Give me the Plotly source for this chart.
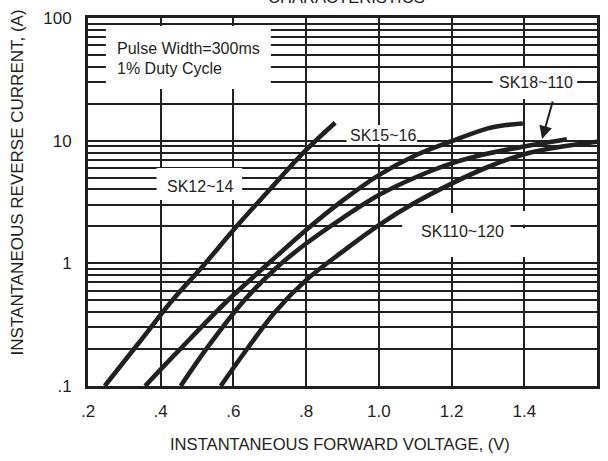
import math
import plotly.graph_objects as go

# ---------------- data ----------------
x_ticks = [0.2, 0.4, 0.6, 0.8, 1.0, 1.2, 1.4, 1.6]
x_ticktext = [".2", ".4", ".6", ".8", "1.0", "1.2", "1.4", "1.6"]
y_ticks = [0.1, 1, 10, 100]
y_ticktext = [".1", "1", "10", "100"]
y_minor = [0.2, 0.3, 0.4, 0.5, 0.6, 0.7, 0.8, 0.9,
           2, 3, 4, 5, 6, 7, 8, 9,
           20, 30, 40, 50, 60, 70, 80, 90]

sk12_v = [0.246, 0.34, 0.432, 0.52, 0.60, 0.70, 0.80, 0.88]
sk12_i = [0.1, 0.225, 0.50, 0.98, 1.87, 4.0, 8.4, 14.0]

sk15_v = [0.357, 0.45, 0.585, 0.70, 0.80, 0.90, 1.0, 1.1, 1.2, 1.3, 1.35, 1.396]
sk15_i = [0.1, 0.195, 0.50, 1.02, 1.87, 3.24, 5.24, 7.57, 9.9, 12.6, 13.4, 13.8]

sk18_v = [0.455, 0.53, 0.63, 0.72, 0.80, 0.90, 1.0, 1.1, 1.2, 1.3, 1.4, 1.517]
sk18_i = [0.1, 0.209, 0.50, 0.93, 1.45, 2.34, 3.6, 5.01, 6.53, 7.85, 8.95, 10.25]

sk110_v = [0.565, 0.64, 0.714, 0.8, 0.9, 1.0, 1.1, 1.2, 1.3, 1.4, 1.5, 1.6]
sk110_i = [0.1, 0.205, 0.40, 0.73, 1.245, 2.05, 3.13, 4.47, 6.1, 7.76, 8.91, 9.8]

arrow_tip = (1.449, 10.3)

# ---------------- layout geometry ----------------
W, H = 608, 461
ML, MR, MT, MB = 88, 8, 18, 75
PW = W - ML - MR
PH = H - MT - MB
INK = "#231f20"
FONT = "Liberation Sans, Arial, sans-serif"


def px(x, y):
    """pixel -> paper coordinates"""
    return (x - ML) / PW, (H - MB - y) / PH


fig = go.Figure()
for v, i in [(sk12_v, sk12_i), (sk15_v, sk15_i), (sk18_v, sk18_i), (sk110_v, sk110_i)]:
    fig.add_trace(go.Scatter(x=v, y=i, mode="lines",
                             line=dict(color=INK, width=4.6, shape="spline", smoothing=1.0),
                             showlegend=False, hoverinfo="skip"))

# white gaps in the grid behind the labels
boxes = [(106, 26, 272, 89), (157, 168, 243, 200), (348, 125, 419, 144),
         (495, 68, 580, 99), (404, 213, 513, 257),
         (523, 211, 531, 224.6), (523, 228.3, 531, 257)]
for x0, y0, x1, y1 in boxes:
    a0, b0 = px(x0, y1)
    a1, b1 = px(x1, y0)
    fig.add_shape(type="rect", xref="paper", yref="paper", x0=a0, x1=a1, y0=b0, y1=b1,
                  fillcolor="white", line=dict(width=0), layer="above")

ann = []


def label(text, x, y, size=16, xanchor="center", angle=0):
    a, b = px(x, y)
    ann.append(dict(text=text, x=a, y=b, xref="paper", yref="paper", showarrow=False,
                    xanchor=xanchor, yanchor="middle", textangle=angle,
                    font=dict(family=FONT, size=size, color=INK)))


label("CHARACTERISTICS", 348, -2, size=16.6)
label("Pulse Width=300ms", 115, 48, xanchor="left")
label("1% Duty Cycle", 115, 68, xanchor="left")
label("SK12~14", 200.3, 186)
label("SK15~16", 384.5, 135)
label("SK18~110", 538.5, 83)
label("SK110~120", 465, 231.7)
label("INSTANTANEOUS REVERSE CURRENT, (A)", 17, 182, size=17, angle=-90)
label("INSTANTANEOUS FORWARD VOLTAGE, (V)", 341.5, 444, size=16.6)

# arrow pointing at the SK18~110 curve (log axis: y in log10 units)
ann.append(dict(text="", x=arrow_tip[0], y=math.log10(arrow_tip[1]), xref="x", yref="y",
                showarrow=True, ax=11, ay=-39,
                arrowhead=2, arrowsize=1.3, arrowwidth=2, arrowcolor=INK))

fig.update_layout(
    width=W, height=H, margin=dict(l=ML, r=MR, t=MT, b=MB, pad=0),
    paper_bgcolor="white", plot_bgcolor="white",
    annotations=ann, showlegend=False,
    font=dict(family=FONT, color=INK),
)
fig.update_xaxes(range=[0.2, 1.6], tickvals=x_ticks, ticktext=x_ticktext, ticks="",
                 ticklabelstandoff=8, tickfont=dict(size=17, family=FONT, color=INK),
                 showgrid=True, gridcolor=INK, gridwidth=2, zeroline=False,
                 showline=True, linecolor=INK, linewidth=3, mirror=True)
fig.update_yaxes(type="log", range=[-1, 2], tickvals=y_ticks, ticktext=y_ticktext, ticks="",
                 ticklabelstandoff=10, tickfont=dict(size=17, family=FONT, color=INK),
                 showgrid=True, gridcolor=INK, gridwidth=2, zeroline=False,
                 minor=dict(tickvals=y_minor, showgrid=True, gridcolor=INK, gridwidth=2, ticks=""),
                 showline=True, linecolor=INK, linewidth=3, mirror=True)

fig.write_html("out.html")
